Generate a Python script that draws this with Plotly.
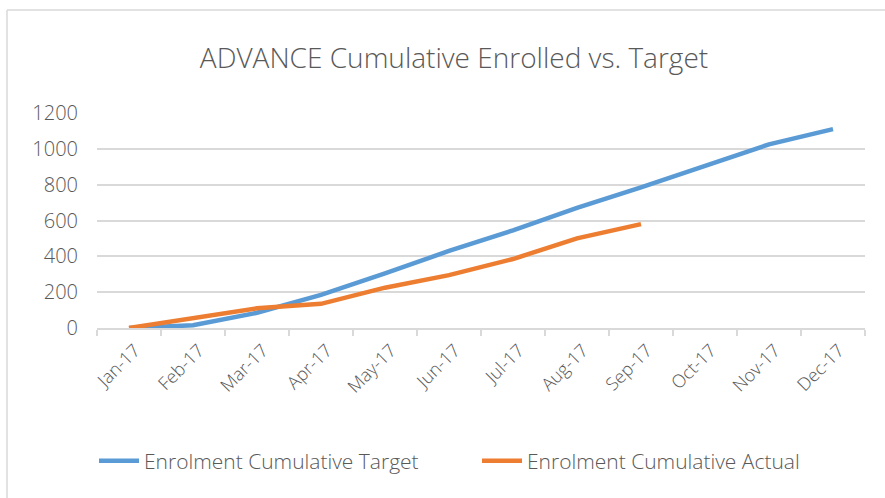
import plotly.graph_objects as go

months = ["Jan-17", "Feb-17", "Mar-17", "Apr-17", "May-17", "Jun-17",
          "Jul-17", "Aug-17", "Sep-17", "Oct-17", "Nov-17", "Dec-17"]
target = [0, 15, 85, 185, 305, 430, 545, 670, 785, 905, 1025, 1110]
actual = [0, 55, 110, 135, 225, 295, 385, 500, 580]

FONT = "Open Sans"
GREY = "#595959"

fig = go.Figure()
fig.add_trace(go.Scatter(x=months, y=target, mode="lines",
                         name="Enrolment Cumulative Target",
                         line=dict(color="#5B9BD5", width=4.5)))
fig.add_trace(go.Scatter(x=months[:len(actual)], y=actual, mode="lines",
                         name="Enrolment Cumulative Actual",
                         line=dict(color="#ED7D31", width=4.5)))

L, R, T, B = 97, 20, 113, 170
W, H = 885, 498
pw, ph = W - L - R, H - T - B

def px(x):
    return (x - L) / pw

def py(y):
    return (H - B - y) / ph

fig.update_layout(
    width=W, height=H,
    margin=dict(l=L, r=R, t=T, b=B),
    paper_bgcolor="white", plot_bgcolor="white",
    font=dict(family=FONT, color=GREY, size=16, weight=300),
    title=dict(text="ADVANCE Cumulative Enrolled vs. Target",
               x=454 / W, xanchor="center", y=1 - 58 / H, yanchor="middle",
               font=dict(size=28, color=GREY, family=FONT, weight=300)),
    showlegend=True,
    legend=dict(orientation="h", x=px(94), xanchor="left",
                y=py(461), yanchor="middle",
                font=dict(size=21, color=GREY, family=FONT, weight=300),
                itemwidth=40, entrywidth=328, entrywidthmode="pixels",
                tracegroupgap=0),
    xaxis=dict(type="category", tickangle=-45, showgrid=False,
               showline=True, linecolor="#D9D9D9", linewidth=1.5,
               ticks="outside", tickson="boundaries", ticklen=6,
               tickcolor="#D9D9D9", tickwidth=1.5,
               ticklabelshift=6, ticklabelstandoff=3,
               tickfont=dict(size=18, color=GREY, family=FONT, weight=300),
               range=[-0.5, 11.5], fixedrange=True),
    yaxis=dict(range=[0, 1200], dtick=200, showgrid=True,
               gridcolor="#D9D9D9", gridwidth=1.5, zeroline=False,
               showline=False, ticks="", ticklabelstandoff=18,
               tickfont=dict(size=20, color=GREY, family=FONT, weight=300)),
    shapes=[
        dict(type="line", xref="paper", yref="paper",
             x0=px(7), x1=px(7), y0=py(H + 5), y1=py(10),
             line=dict(color="#D9D9D9", width=1.5)),
        dict(type="line", xref="paper", yref="paper",
             x0=px(7), x1=px(W + 5), y0=py(10), y1=py(10),
             line=dict(color="#D9D9D9", width=1.5)),
    ],
)

fig.write_html("out.html")
